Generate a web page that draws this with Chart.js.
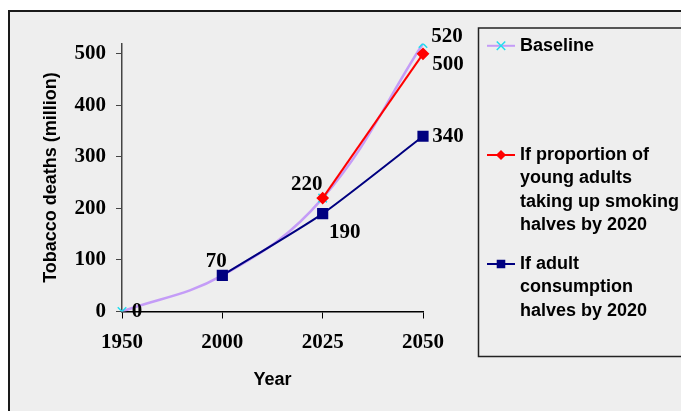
<!DOCTYPE html>
<html>
<head>
<meta charset="utf-8">
<script src="https://cdn.jsdelivr.net/npm/chart.js@4/dist/chart.umd.min.js"></script>
<style>
  html, body { margin: 0; padding: 0; background: #ffffff; }
  canvas { display: block; }
</style>
</head>
<body>
<canvas id="chart" width="681" height="411"></canvas>
<script>
// ---- data ----
const years = ['1950', '2000', '2025', '2050'];
const baseline = [0, 70, 220, 520];
const youngHalved = [null, null, 220, 500];
const adultHalved = [null, 70, 190, 340];
const yTickValues = [0, 100, 200, 300, 400, 500];

const baselineLegend = ['Baseline'];
const youngLegend = ['If proportion of', 'young adults', 'taking up smoking', 'halves by 2020'];
const adultLegend = ['If adult', 'consumption', 'halves by 2020'];
const yTitle = 'Tobacco deaths (million)';
const xTitle = 'Year';

// ---- styling ----
const SERIF = '"Liberation Serif", "Times New Roman", serif';
const SANS = '"Liberation Sans", Arial, sans-serif';
const PANEL = '#eeeeee';

// where each value label sits relative to its point [dx, dy]
const valueLabelPlacement = {
  0: { 0: [15, 0], 1: [-6, -14], 2: [-16, -14], 3: [24, -7] },
  1: { 3: [25, 11] },
  2: { 2: [22, 19], 3: [25, 0] }
};

const legendLayout = {
  box: { x: 478.5, y: 28, bottom: 356.5 },
  lineX0: 487, lineX1: 515, textX: 520, lineHeight: 23.4,
  firstLineY: [45.8, 155, 264]
};

function marker(ctx, style, radius, x, y, fill, stroke) {
  if (Chart.helpers && Chart.helpers.drawPoint) {
    ctx.save();
    ctx.fillStyle = fill;
    ctx.strokeStyle = stroke;
    ctx.lineWidth = 1.5;
    Chart.helpers.drawPoint(ctx, { pointStyle: style, radius: radius, rotation: 0, borderWidth: 1.5 }, x, y);
    ctx.restore();
  }
}

const framePlugin = {
  id: 'frame',
  beforeDraw(chart) {
    const ctx = chart.ctx;
    ctx.save();
    ctx.fillStyle = '#ffffff';
    ctx.fillRect(0, 0, chart.width, chart.height);
    ctx.fillStyle = PANEL;
    ctx.fillRect(9, 11, chart.width, chart.height);
    ctx.strokeStyle = '#1a1a1a';
    ctx.lineWidth = 2;
    ctx.strokeRect(9, 11, chart.width + 20, chart.height + 20);
    // legend box
    const b = legendLayout.box;
    ctx.lineWidth = 1.5;
    ctx.strokeStyle = '#222222';
    ctx.strokeRect(b.x, b.y, chart.width + 20, b.bottom - b.y);
    ctx.restore();
  }
};

const valueLabelPlugin = {
  id: 'valueLabels',
  afterDatasetsDraw(chart) {
    const ctx = chart.ctx;
    ctx.save();
    ctx.font = 'bold 21px ' + SERIF;
    ctx.fillStyle = '#000000';
    ctx.textAlign = 'center';
    ctx.textBaseline = 'middle';
    chart.data.datasets.forEach((ds, di) => {
      const place = valueLabelPlacement[di] || {};
      const meta = chart.getDatasetMeta(di);
      ds.data.forEach((v, i) => {
        if (v === null || !place[i]) return;
        const pt = meta.data[i];
        ctx.fillText(String(v), pt.x + place[i][0], pt.y + place[i][1]);
      });
    });
    ctx.restore();
  }
};

const legendPlugin = {
  id: 'boxLegend',
  afterDraw(chart) {
    const ctx = chart.ctx;
    const L = legendLayout;
    const groups = [baselineLegend, youngLegend, adultLegend];
    ctx.save();
    chart.data.datasets.forEach((ds, di) => {
      const y0 = L.firstLineY[di];
      ctx.strokeStyle = ds.borderColor;
      ctx.lineWidth = 2;
      ctx.beginPath();
      ctx.moveTo(L.lineX0, y0);
      ctx.lineTo(L.lineX1, y0);
      ctx.stroke();
      marker(ctx, ds.pointStyle, ds.legendRadius, (L.lineX0 + L.lineX1) / 2, y0,
             ds.pointBackgroundColor, ds.pointBorderColor);
      ctx.font = 'bold 18px ' + SANS;
      ctx.fillStyle = '#000000';
      ctx.textAlign = 'left';
      ctx.textBaseline = 'middle';
      groups[di].forEach((line, k) => {
        ctx.fillText(line, L.textX, y0 + k * L.lineHeight);
      });
    });
    ctx.restore();
  }
};

new Chart(document.getElementById('chart'), {
  type: 'line',
  data: {
    labels: years,
    datasets: [
      {
        label: baselineLegend.join(' '),
        data: baseline,
        borderColor: '#c49cf7',
        borderWidth: 2.5,
        tension: 0.4,
        pointStyle: 'crossRot',
        pointRadius: 6,
        legendRadius: 6,
        pointBorderColor: '#22ddee',
        pointBackgroundColor: '#22ddee',
        pointBorderWidth: 1.5,
        order: 3
      },
      {
        label: youngLegend.join(' '),
        data: youngHalved,
        borderColor: '#ff0000',
        borderWidth: 2,
        tension: 0,
        pointStyle: 'rectRot',
        pointRadius: 5,
        legendRadius: 4,
        pointBorderColor: '#ff0000',
        pointBackgroundColor: '#ff0000',
        order: 2
      },
      {
        label: adultLegend.join(' '),
        data: adultHalved,
        borderColor: '#000080',
        borderWidth: 2,
        tension: 0.2,
        pointStyle: 'rect',
        pointRadius: 6.5,
        legendRadius: 5,
        pointBorderColor: '#000080',
        pointBackgroundColor: '#000080',
        order: 1
      }
    ]
  },
  options: {
    responsive: false,
    animation: false,
    events: [],
    layout: { autoPadding: false, padding: { left: 9, top: 43.5, right: 258, bottom: 0 } },
    plugins: { legend: { display: false }, tooltip: { enabled: false }, title: { display: false } },
    scales: {
      x: {
        type: 'category',
        offset: false,
        grid: { drawOnChartArea: false, tickLength: 7, color: '#000000', lineWidth: 1 },
        border: { color: '#000000', width: 1.5 },
        ticks: { font: { family: SERIF, size: 21, weight: 'bold' }, color: '#000000', padding: 11, maxRotation: 0 },
        title: { display: true, text: xTitle, font: { family: SANS, size: 18, weight: 'bold' }, color: '#000000', padding: { top: 0, bottom: 20 } },
        afterFit(scale) { scale.height = 99.5; }
      },
      y: {
        min: 0,
        max: 520,
        grid: { drawOnChartArea: false, tickLength: 6, color: '#444444', lineWidth: 1 },
        border: { color: '#444444', width: 1.5 },
        ticks: { font: { family: SERIF, size: 21, weight: 'bold' }, color: '#000000', padding: 10 },
        afterBuildTicks(scale) { scale.ticks = yTickValues.map(v => ({ value: v })); },
        title: { display: true, text: yTitle, font: { family: SANS, size: 18, weight: 'bold' }, color: '#000000', padding: { top: 31, bottom: 0 } },
        afterFit(scale) { scale.width = 113; }
      }
    }
  },
  plugins: [framePlugin, valueLabelPlugin, legendPlugin]
});
</script>
</body>
</html>
